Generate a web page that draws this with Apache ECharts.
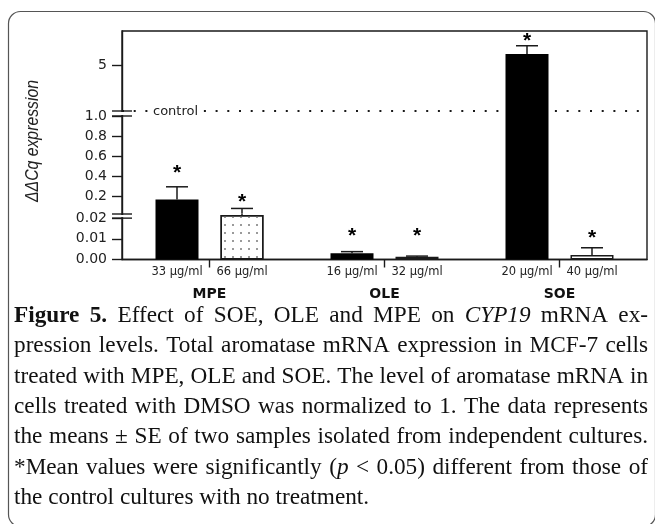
<!DOCTYPE html>
<html>
<head>
<meta charset="utf-8">
<title>Figure 5</title>
<style>
html,body{margin:0;padding:0;background:#fff;}
#chart{width:655px;height:524px;}
</style>
<script src="https://cdn.jsdelivr.net/npm/echarts@6/dist/echarts.min.js"></script>
</head>
<body>
<div id="chart"></div>
<script>
// data
var groups = ['MPE', 'OLE', 'SOE'];
var lowDose = ['33 µg/ml', '16 µg/ml', '20 µg/ml'];
var highDose = ['66 µg/ml', '32 µg/ml', '40 µg/ml'];
var lowMean = [0.166, 0.003, 5.99];
var lowSE = [0.126, 0.0008, 0.72];
var highMean = [0.0215, 0.00135, 0.00217];
var highSE = [0.054, 0.0003, 0.0035];
var lowStar = [0.47, 0.0134, 7.47];
var highStar = [0.179, 0.0131, 0.0122];
var ticksTop = [5];
var ticksMid = [0.2, 0.4, 0.6, 0.8, 1.0];
var ticksLow = [0, 0.01, 0.02];
var controlLevel = 1;

var captionLines = [
	'**Figure 5.** Effect of SOE, OLE and MPE on _CYP19_ mRNA ex-',
	'pression levels. Total aromatase mRNA expression in MCF-7 cells',
	'treated with MPE, OLE and SOE. The level of aromatase mRNA in',
	'cells treated with DMSO was normalized to 1. The data represents',
	'the means ± SE of two samples isolated from independent cultures.',
	'*Mean values were significantly (_p_ < 0.05) different from those of',
	'the control cultures with no treatment.'
];

// broken y axis: three stacked segments (top, middle, bottom)
var segMin = [1, 0.02, 0];
var segMax = [8, 1.05, 0.022];
var segTop = [31, 111, 214];
var segHeight = [80, 103, 45.5];
var segTicks = [ticksTop, ticksMid, ticksLow];
var segDigits = [0, 1, 2];

var plotLeft = 122, plotRight = 8;
var barWidth = 43, barGap = 22, capWidth = 22;
var ink = '#1a1a1a';
var sans = '"DejaVu Sans", sans-serif';

var chart = echarts.init(document.getElementById('chart'));

function errorBars(s){
	return function(params, api){
		var k = api.value(0);
		var half = (barWidth + barGap) / 2;
		var children = [];
		[[1, -1], [4, 1]].forEach(function(side){
			var mean = api.value(side[0]);
			var top = mean + api.value(side[0] + 1);
			var star = api.value(side[0] + 2);
			var lo = Math.max(mean, segMin[s]);
			var hi = Math.min(top, segMax[s]);
			var x = api.coord([k, 0])[0] + side[1] * half;
			if(hi > lo){
				children.push({
					type: 'line',
					shape: {x1: x, y1: api.coord([k, lo])[1], x2: x, y2: api.coord([k, hi])[1]},
					style: {stroke: ink, lineWidth: 1.5}
				});
			}
			if(top >= segMin[s] && top <= segMax[s]){
				var yc = api.coord([k, top])[1];
				children.push({
					type: 'line',
					shape: {x1: x - capWidth / 2, y1: yc, x2: x + capWidth / 2, y2: yc},
					style: {stroke: ink, lineWidth: 1.5}
				});
			}
			if(star >= segMin[s] && star < segMax[s]){
				children.push({
					type: 'text',
					x: x,
					y: api.coord([k, star])[1] + 4,
					style: {
						text: '*',
						font: 'bold 21px "Liberation Sans", sans-serif',
						fill: '#000',
						textAlign: 'center',
						textVerticalAlign: 'middle'
					}
				});
			}
		});
		return {type: 'group', children: children};
	};
}

var errData = groups.map(function(g, k){
	return [k, lowMean[k], lowSE[k], lowStar[k], highMean[k], highSE[k], highStar[k]];
});

var grids = [], xAxes = [], yAxes = [], series = [];
for(var s = 0; s < 3; s++){
	var isLow = s === 2;
	grids.push({
		left: plotLeft, right: plotRight, top: segTop[s], height: segHeight[s],
		outerBoundsMode: 'none', containLabel: false
	});
	xAxes.push({
		gridIndex: s,
		type: 'category',
		data: groups,
		show: isLow,
		axisLine: {show: true, lineStyle: {color: ink, width: 1.4}},
		axisTick: {show: true, alignWithLabel: true, length: 8, lineStyle: {color: ink, width: 1.4}},
		axisLabel: {margin: 28, fontFamily: sans, fontWeight: 'bold', fontSize: 14, color: '#111'},
		splitLine: {show: false}
	});
	yAxes.push({
		gridIndex: s,
		type: 'value',
		min: segMin[s],
		max: segMax[s],
		axisLine: {show: true, lineStyle: {color: ink, width: 1.4}},
		axisTick: {show: true, length: 10, customValues: segTicks[s], lineStyle: {color: ink, width: 1.4}},
		axisLabel: {
			margin: 15,
			customValues: segTicks[s],
			fontFamily: sans, fontSize: 14, color: '#222',
			formatter: (function(d){ return function(v){ return Number(v).toFixed(d); }; })(segDigits[s])
		},
		splitLine: {show: false}
	});
	series.push({
		type: 'bar',
		xAxisIndex: s, yAxisIndex: s,
		data: lowMean,
		barWidth: barWidth,
		barGap: (barGap / barWidth * 100) + '%',
		clip: true,
		z: 2,
		itemStyle: {color: '#000'},
		label: {
			show: isLow,
			position: 'bottom',
			distance: 7,
			fontFamily: sans, fontSize: 11.5, color: '#222',
			formatter: function(p){ return lowDose[p.dataIndex]; }
		},
		markLine: s === 0 ? {
			silent: true,
			symbol: 'none',
			z: 1,
			lineStyle: {color: ink, width: 2, type: [2, 9.7]},
			label: {
				show: true,
				formatter: 'control',
				position: 'insideStartTop',
				distance: [29, -7],
				fontFamily: sans, fontSize: 13, color: '#222',
				backgroundColor: '#fff',
				padding: [0, 2]
			},
			data: [{yAxis: controlLevel}]
		} : undefined
	});
	series.push({
		type: 'bar',
		xAxisIndex: s, yAxisIndex: s,
		data: highMean.map(function(v, k){
			return {
				value: v,
				itemStyle: k === 0 ? {
					color: '#fff', borderColor: ink, borderWidth: 1.5,
					decal: {symbol: 'rect', symbolSize: 1, color: '#9a9a9a', dashArrayX: [1.5, 5.5], dashArrayY: [1.5, 5.5]}
				} : {color: '#fff', borderColor: ink, borderWidth: 1.5}
			};
		}),
		barWidth: barWidth,
		barGap: (barGap / barWidth * 100) + '%',
		clip: true,
		z: 2,
		label: {
			show: isLow,
			position: 'bottom',
			distance: 7,
			fontFamily: sans, fontSize: 11.5, color: '#222',
			formatter: function(p){ return highDose[p.dataIndex]; }
		}
	});
	series.push({
		type: 'custom',
		xAxisIndex: s, yAxisIndex: s,
		data: errData,
		encode: {x: 0, y: 1},
		z: 3,
		silent: true,
		renderItem: errorBars(s)
	});
}
// frame round the plot
grids.push({
	left: plotLeft, right: plotRight, top: segTop[0], height: segTop[2] + segHeight[2] - segTop[0],
	show: true, borderColor: ink, borderWidth: 1.4, backgroundColor: 'transparent',
	outerBoundsMode: 'none'
});

// caption, justified word by word
var captionFamily = '"Liberation Serif", "Times New Roman", serif';
var capLeft = 14, capRight = 648, capY = 316, capStep = 30.33;
var captionSize = 1;
var measureCtx = document.createElement('canvas').getContext('2d');
function fontOf(st){
	return (st.i ? 'italic ' : '') + (st.b ? 'bold ' : '') + captionSize + 'px ' + captionFamily;
}
function textWidth(t, st){
	measureCtx.font = fontOf(st);
	return measureCtx.measureText(t).width;
}
function parseLine(line){
	var words = [], cur = [], buf = '', st = {b: false, i: false};
	function flush(){
		if(buf){ cur.push({t: buf, st: {b: st.b, i: st.i}}); buf = ''; }
	}
	for(var k = 0; k < line.length; k++){
		var ch = line.charAt(k);
		if(line.substr(k, 2) === '**'){ flush(); st.b = !st.b; k++; }
		else if(ch === '_'){ flush(); st.i = !st.i; }
		else if(ch === ' '){ flush(); if(cur.length){ words.push(cur); cur = []; } }
		else { buf += ch; }
	}
	flush();
	if(cur.length) words.push(cur);
	return words;
}
function lineLayout(words){
	var widths = words.map(function(w){
		return w.reduce(function(a, seg){ return a + textWidth(seg.t, seg.st); }, 0);
	});
	return {widths: widths, total: widths.reduce(function(a, b){ return a + b; }, 0)};
}
var parsed = captionLines.map(parseLine);
// font size: the tightest justified line gets normal word spaces
captionSize = 100;
var fit = 100;
parsed.forEach(function(words, j){
	if(j === parsed.length - 1) return;
	var lay = lineLayout(words);
	var natural = lay.total + textWidth(' ', {}) * (words.length - 1);
	fit = Math.min(fit, 100 * (capRight - capLeft) / natural);
});
captionSize = Math.floor(fit * 4) / 4;

var graphics = [];
parsed.forEach(function(words, j){
	var lay = lineLayout(words);
	var last = j === parsed.length - 1;
	var gap = last ? textWidth(' ', {}) : (capRight - capLeft - lay.total) / (words.length - 1);
	var x = capLeft;
	words.forEach(function(w, wi){
		var sx = x;
		w.forEach(function(seg){
			graphics.push({
				type: 'text',
				x: sx,
				y: capY + j * capStep,
				silent: true,
				style: {text: seg.t, font: fontOf(seg.st), fill: '#111', textAlign: 'left', textVerticalAlign: 'middle'}
			});
			sx += textWidth(seg.t, seg.st);
		});
		x += lay.widths[wi] + gap;
	});
});
graphics.push({
	type: 'text',
	x: 33, y: 141,
	rotation: Math.PI / 2,
	scaleX: 0.83,
	silent: true,
	style: {
		text: 'ΔΔCq expression',
		font: 'italic 19px "Liberation Sans", sans-serif',
		fill: '#222', textAlign: 'center', textVerticalAlign: 'middle'
	}
});
graphics.push({
	type: 'rect',
	silent: true,
	shape: {x: 8.5, y: 11.5, width: 647, height: 515, r: 12},
	style: {fill: 'none', stroke: '#555', lineWidth: 1.2}
});

chart.setOption({
	animation: false,
	backgroundColor: '#fff',
	grid: grids,
	xAxis: xAxes,
	yAxis: yAxes,
	series: series,
	graphic: graphics
});

// break marks on the y axis, placed through the axis scales
function breakMark(yA, yB){
	return [
		{type: 'rect', z: 50, silent: true, shape: {x: plotLeft - 2, y: yA + 1, width: 4, height: yB - yA - 2}, style: {fill: '#fff'}},
		{type: 'line', z: 51, silent: true, shape: {x1: plotLeft - 10, y1: yA, x2: plotLeft + 10, y2: yA}, style: {stroke: ink, lineWidth: 1.4}},
		{type: 'line', z: 51, silent: true, shape: {x1: plotLeft - 10, y1: yB, x2: plotLeft + 10, y2: yB}, style: {stroke: ink, lineWidth: 1.4}}
	];
}
var y1 = chart.convertToPixel({yAxisIndex: 0}, 1);
var y2 = chart.convertToPixel({yAxisIndex: 1}, 1);
var y3 = chart.convertToPixel({yAxisIndex: 1}, 0.02);
var y4 = chart.convertToPixel({yAxisIndex: 2}, 0.02);
chart.setOption({graphic: graphics.concat(breakMark(y1, y2), breakMark(y3, y4))});
</script>
</body>
</html>
